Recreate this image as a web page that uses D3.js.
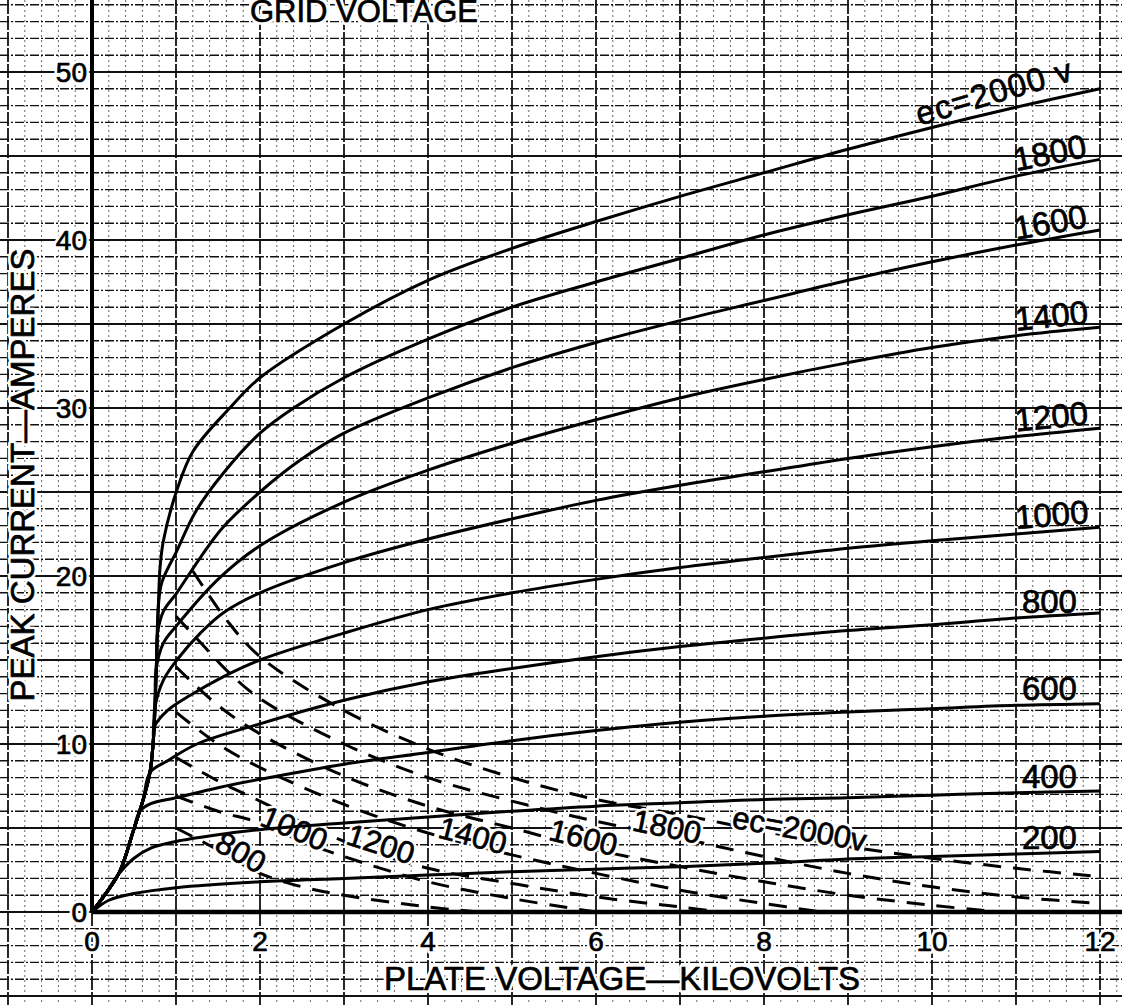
<!DOCTYPE html>
<html>
<head>
<meta charset="utf-8">
<script src="https://cdn.jsdelivr.net/npm/d3@7"></script>
<style>
  html, body { margin: 0; padding: 0; background: #fff; }
  svg { display: block; }
  text { font-family: "Liberation Sans", Arial, sans-serif; }
</style>
</head>
<body>
<svg id="chart" width="1122" height="1005"></svg>
<script>
// plate voltage (kV), peak current (A)
var envelope = [[0,0],[0.15,1.0],[0.33,2.4],[0.49,4.8],[0.61,6.7],[0.69,8.3],[0.73,10.2],[0.75,12.2],[0.77,15.2],[0.79,18.2],[0.81,20.5]];

// solid curves, one per grid voltage (each picks up the envelope below its first point)
var ec200  = [[0,0],[0.2,0.7],[0.5,1.1],[1,1.45],[2,1.8],[3,2.0],[4,2.2],[5,2.4],[6,2.55],[7,2.7],[8,2.9],[9,3.15],[10,3.3],[11,3.45],[12,3.6]];
var ec400  = [[0.3,2.15],[0.5,3.2],[0.7,3.8],[1,4.2],[1.5,4.6],[2,4.9],[3,5.3],[4,5.65],[5,6.0],[6,6.3],[7,6.5],[8,6.7],[9,6.8],[10,6.95],[11,7.1],[12,7.2]];
var ec600  = [[0.57,6.0],[0.7,6.45],[1,6.8],[1.5,7.4],[2,7.9],[3,8.8],[4,9.5],[5,10.2],[6,10.8],[7,11.3],[8,11.65],[9,11.9],[10,12.1],[11,12.3],[12,12.4]];
var ec800  = [[0.69,8.3],[0.9,9.0],[1.25,10.0],[2,11.2],[3,12.6],[4,13.7],[5,14.5],[6,15.2],[7,15.8],[8,16.3],[9,16.75],[10,17.1],[11,17.5],[12,17.8]];
var ec1000 = [[0.74,11.0],[0.9,12.0],[1.17,12.9],[1.56,14.0],[2,15.0],[3,16.6],[4,18.0],[5,19.0],[6,19.8],[7,20.5],[8,21.1],[9,21.65],[10,22.1],[11,22.5],[12,22.9]];
var ec1200 = [[0.75,12.2],[0.85,13.8],[1.01,15.0],[1.29,16.6],[1.56,17.8],[2,19.0],[3,20.8],[4,22.2],[5,23.4],[6,24.5],[7,25.4],[8,26.2],[9,27.0],[10,27.7],[11,28.3],[12,28.8]];
var ec1400 = [[0.765,14.5],[0.85,16.0],[1,17.0],[1.5,19.8],[2,21.8],[3,24.4],[4,26.3],[5,27.9],[6,29.3],[7,30.6],[8,31.7],[9,32.7],[10,33.6],[11,34.3],[12,34.8]];
var ec1600 = [[0.78,16.6],[0.85,17.9],[1.01,19.0],[1.29,21.1],[1.56,22.9],[2,25.0],[2.48,26.9],[3,28.5],[4,30.6],[5,32.4],[6,33.9],[7,35.2],[8,36.4],[9,37.6],[10,38.7],[11,39.7],[12,40.6]];
var ec1800 = [[0.79,18.2],[0.83,19.6],[1.01,21.5],[1.23,23.8],[1.56,26.1],[2,28.5],[2.4,30.0],[3,31.8],[4,34.1],[5,36.0],[6,37.5],[7,38.9],[8,40.3],[9,41.5],[10,42.6],[11,43.8],[12,44.8]];
var ec2000 = [[0.81,20.5],[0.85,22.1],[1.01,25.1],[1.2,27.4],[1.64,30.0],[2,31.8],[3,35.0],[4,37.6],[5,39.5],[6,41.1],[7,42.6],[8,44.0],[9,45.4],[10,46.7],[11,47.9],[12,49.0]];
var solidNames = ["200","400","600","800","1000","1200","1400","1600","1800","ec=2000 v"];

// dashed curves
var dash800  = [[1.0,5.0],[1.5,3.7],[2,2.3],[2.5,1.5],[3,1.0],[4,0.3],[4.6,0]];
var dash1000 = [[1.0,6.9],[1.5,6.0],[2,5.3],[2.5,4.2],[3,3.3],[4,1.8],[5,0.8],[6,0]];
var dash1200 = [[1.0,9.2],[1.5,7.8],[2,6.6],[3,4.2],[4,2.6],[5,1.7],[6,0.9],[7,0.3],[7.5,0]];
var dash1400 = [[1.0,11.9],[1.5,10.0],[2,8.6],[3,6.4],[4,4.7],[5,3.4],[6,2.3],[7,1.3],[8,0.5],[8.7,0]];
var dash1600 = [[1.0,14.6],[1.5,12.3],[2,10.6],[3,8.1],[4,6.3],[5,5.0],[6,3.7],[7,2.7],[8,1.8],[9,1.0],[10,0.4],[10.8,0]];
var dash1800 = [[1.0,17.6],[1.3,16.0],[1.6,14.4],[2,12.7],[3,10.0],[4,8.0],[5,6.6],[6,5.4],[7,4.4],[8,3.3],[9,2.3],[10,1.5],[11,0.9],[12,0.5]];
var dash2000 = [[1.2,20.3],[1.6,17.4],[2,15.2],[3,12.0],[4,9.7],[5,8.0],[6,6.7],[7,5.8],[8,4.8],[9,3.9],[10,3.2],[11,2.6],[12,2.1]];
var dashNames = ["800","1000","1200","1400","1600","1800","ec=2000v"];

var xTicks = [0,2,4,6,8,10,12];
var yTicks = [0,10,20,30,40,50];

var solidSeries = [ec200, ec400, ec600, ec800, ec1000, ec1200, ec1400, ec1600, ec1800, ec2000];
var dashSeries = [dash800, dash1000, dash1200, dash1400, dash1600, dash1800, dash2000];
// where along the plate axis each dashed label sits
var dashLabelAt = [1.71, 2.36, 3.4, 4.5, 5.82, 6.82, 8.4];

var W = 1122, H = 1005;
var svg = d3.select("#chart");
var x = d3.scaleLinear().domain([0, 12]).range([92, 1100]);
var y = d3.scaleLinear().domain([0, 50]).range([912, 72]);

svg.append("rect").attr("width", W).attr("height", H).attr("fill", "#fff");

// graph paper: 0.2 kV by 1 A, heavy every 1 kV / 5 A
var grid = svg.append("g");
d3.range(-5, 62).forEach(function(k) {
  var major = k % 5 === 0;
  grid.append("line")
    .attr("x1", x(k / 5)).attr("x2", x(k / 5))
    .attr("y1", 0).attr("y2", H)
    .attr("stroke", major ? "#111" : "#666")
    .attr("stroke-width", major ? 1.8 : 1)
    .attr("stroke-dasharray", major ? "14,2" : "2,3");
});
d3.range(-5, 55).forEach(function(k) {
  var major = k % 5 === 0;
  grid.append("line")
    .attr("x1", 0).attr("x2", W)
    .attr("y1", y(k)).attr("y2", y(k))
    .attr("stroke", "#111")
    .attr("stroke-width", major ? 2.2 : 1.4)
    .attr("stroke-dasharray", major ? null : "9,2,2,2");
});

// axes
svg.append("line").attr("x1", x(0)).attr("x2", x(0)).attr("y1", 0).attr("y2", y(0))
  .attr("stroke", "#000").attr("stroke-width", 4);
svg.append("line").attr("x1", x(0)).attr("x2", W).attr("y1", y(0)).attr("y2", y(0))
  .attr("stroke", "#000").attr("stroke-width", 4.5);

function valueAt(pts, v) {
  for (var i = 1; i < pts.length; i++) {
    if (v <= pts[i][0]) {
      var t = (v - pts[i-1][0]) / (pts[i][0] - pts[i-1][0]);
      return pts[i-1][1] + t * (pts[i][1] - pts[i-1][1]);
    }
  }
  return pts[pts.length - 1][1];
}
function angleAt(pts, v) {
  var a = valueAt(pts, v - 0.25), b = valueAt(pts, v + 0.25);
  return Math.atan2(y(b) - y(a), x(v + 0.25) - x(v - 0.25)) * 180 / Math.PI;
}

// lettering: white knock-out under, slightly heavy black on top
function letter(parent, txt, transform, anchor, size) {
  [true, false].forEach(function(under) {
    parent.append("text")
      .attr("transform", transform)
      .attr("text-anchor", anchor)
      .style("font-size", size + "px")
      .attr("fill", under ? "#fff" : "#000")
      .attr("stroke", under ? "#fff" : "#000")
      .attr("stroke-width", under ? 6 : 0.7)
      .attr("stroke-linejoin", "round")
      .text(txt);
  });
}

var line = d3.line()
  .x(function(d) { return x(d[0]); })
  .y(function(d) { return y(d[1]); })
  .curve(d3.curveCatmullRom.alpha(0.5));

// dashed family
svg.append("g").selectAll("path").data(dashSeries).join("path")
  .attr("d", line)
  .attr("fill", "none")
  .attr("stroke", "#000")
  .attr("stroke-width", 3)
  .attr("stroke-dasharray", "18,12");

var dashLab = svg.append("g");
dashSeries.forEach(function(d, i) {
  var v = dashLabelAt[i];
  letter(dashLab, dashNames[i],
    "translate(" + x(v) + "," + (y(valueAt(d, v)) + 2) + ") rotate(" + angleAt(d, v) + ")",
    "middle", 31);
});

// solid family
var solidFull = solidSeries.map(function(pts) {
  return envelope.filter(function(p) { return p[0] < pts[0][0]; }).concat(pts);
});
svg.append("g").selectAll("path").data(solidFull).join("path")
  .attr("d", line)
  .attr("fill", "none")
  .attr("stroke", "#000")
  .attr("stroke-width", 3)
  .attr("stroke-linejoin", "round");

var solidLab = svg.append("g");
solidSeries.forEach(function(d, i) {
  var top = i === solidSeries.length - 1;
  var v = top ? 9.85 : (i < 4 ? 11.07 : 11.0);
  var ang = i < 4 ? 0 : angleAt(d, 11.5) - (top ? 4 : 0);
  solidLab.append("text")
    .attr("transform", "translate(" + x(v) + "," + (y(valueAt(d, v)) - 5) + ") rotate(" + ang + ")")
    .style("font-size", "33px")
    .style("letter-spacing", top ? "1px" : null)
    .attr("fill", "#000").attr("stroke", "#000").attr("stroke-width", 0.7)
    .text(solidNames[i]);
});

// tick labels
var ticks = svg.append("g");
yTicks.forEach(function(d) {
  letter(ticks, d, "translate(" + (x(0) - 5) + "," + (y(d) + 10) + ")", "end", 28);
});
xTicks.forEach(function(d) {
  letter(ticks, d, "translate(" + x(d) + "," + (y(0) + 39) + ")", "middle", 28);
});

// titles
letter(svg, "GRID VOLTAGE", "translate(250,22)", "start", 31);
letter(svg, "PLATE VOLTAGE\u2014KILOVOLTS", "translate(622,990)", "middle", 33);
letter(svg, "PEAK CURRENT\u2014AMPERES", "translate(34,475) rotate(-90)", "middle", 33);
</script>
</body>
</html>
